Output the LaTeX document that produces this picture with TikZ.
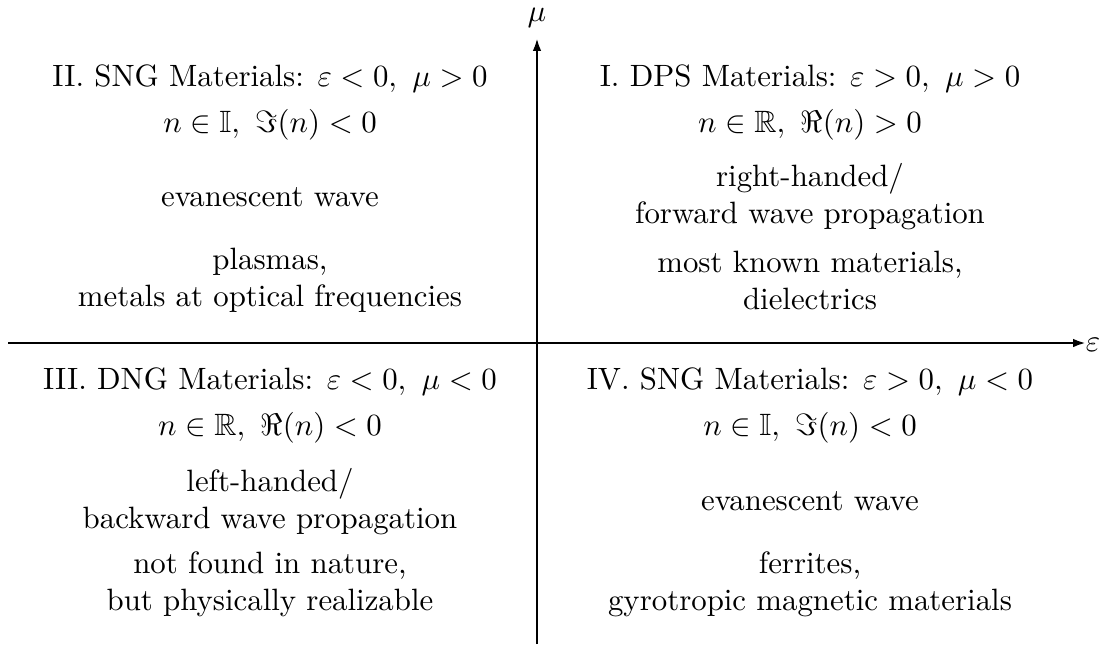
\documentclass[tikz,border=0pt]{standalone}
\usepackage{amsmath,amssymb}
\usetikzlibrary{arrows.meta}
\begin{document}
\begin{tikzpicture}[x=0.3243pt,y=-0.3243pt,
  txt/.style={align=center,inner sep=0pt},
  axis/.style={thick,-{Latex[length=4.2pt,width=2.8pt]}}]
\useasboundingbox (0,0) rectangle (1099,644);
% axes
\coordinate (xl) at (8,343);
\coordinate (xr) at (1086,343);
\coordinate (yb) at (537,644);
\coordinate (yt) at (537,38);
\draw[axis] (xl) -- (xr);
\draw[axis] (yb) -- (yt);
\node[txt] (eps) at (1093,345) {$\varepsilon$};
\node[txt] (mu) at (537,18) {$\mu$};
% quadrant II
\node[txt] (q2a) at (270,79) {II. SNG Materials: $\varepsilon<0,\ \mu>0$};
\node[txt] (q2b) at (270,125) {$n\in\mathbb{I},\ \Im(n)<0$};
\node[txt] (q2c) at (270,197) {evanescent wave};
\node[txt] (q2d) at (270,280) {plasmas,\\ metals at optical frequencies};
% quadrant I
\node[txt] (q1a) at (810,79) {I. DPS Materials: $\varepsilon>0,\ \mu>0$};
\node[txt] (q1b) at (810,125) {$n\in\mathbb{R},\ \Re(n)>0$};
\node[txt] (q1c) at (810,197) {right-handed/\\ forward wave propagation};
\node[txt] (q1d) at (810,280) {most known materials,\\ dielectrics};
% quadrant III
\node[txt] (q3a) at (270,382) {III. DNG Materials: $\varepsilon<0,\ \mu<0$};
\node[txt] (q3b) at (270,428) {$n\in\mathbb{R},\ \Re(n)<0$};
\node[txt] (q3c) at (270,502) {left-handed/\\ backward wave propagation};
\node[txt] (q3d) at (270,584) {not found in nature,\\ but physically realizable};
% quadrant IV
\node[txt] (q4a) at (810,382) {IV. SNG Materials: $\varepsilon>0,\ \mu<0$};
\node[txt] (q4b) at (810,428) {$n\in\mathbb{I},\ \Im(n)<0$};
\node[txt] (q4c) at (810,501) {evanescent wave};
\node[txt] (q4d) at (810,584) {ferrites,\\ gyrotropic magnetic materials};
\end{tikzpicture}
\end{document}
